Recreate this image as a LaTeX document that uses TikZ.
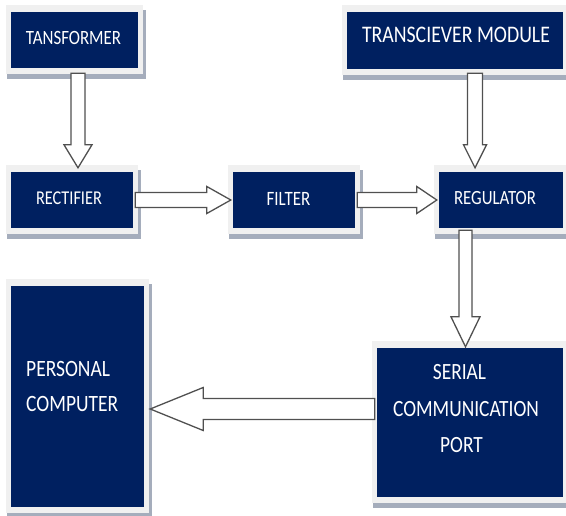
\documentclass[tikz,border=0pt]{standalone}
\usepackage{fontspec}
\setmainfont{Carlito}
\usetikzlibrary{calc,backgrounds}
\definecolor{navy}{RGB}{0,32,96}
\definecolor{framec}{RGB}{240,240,240}
\definecolor{shadowc}{RGB}{165,173,188}
\definecolor{arrowc}{RGB}{80,80,80}
\newcommand\vstretch[1]{\scalebox{1}[1.2]{#1}}
\newcommand\blockarrow[5]{%
  \path ($(#2)!#5!(#1)$) coordinate (hb);
  \draw[barrow] ($(#1)!#3!90:(#2)$) -- ($(hb)!#3!90:(#2)$) -- ($(hb)!#4!90:(#2)$)
    -- (#2) -- ($(hb)!#4!-90:(#2)$) -- ($(hb)!#3!-90:(#2)$) -- ($(#1)!#3!-90:(#2)$) -- cycle;
}
\tikzset{
  box/.style={fill=navy, draw=none, inner sep=0pt},
  lbl/.style={text=white, inner sep=0pt, anchor=base},
  barrow/.style={draw=arrowc, fill=white, line width=1.3pt, line join=miter},
}
\begin{document}
\begin{tikzpicture}[x=1pt,y=-1pt]
\useasboundingbox (0,0) rectangle (566,516);
% boxes
\node[box, minimum width=127pt, minimum height=56pt] (tr) at (74.5,40) {};
\node[box, minimum width=216pt, minimum height=57pt] (tm) at (455,40.5) {};
\node[box, minimum width=122pt, minimum height=56pt] (rect) at (72,200) {};
\node[box, minimum width=122pt, minimum height=56pt] (filt) at (294,200) {};
\node[box, minimum width=124pt, minimum height=56pt] (reg) at (501,200) {};
\node[box, minimum width=133pt, minimum height=221pt] (pc) at (77.5,396.5) {};
\node[box, minimum width=186pt, minimum height=149pt] (ser) at (470,422.5) {};
% frames and shadows
\begin{scope}[on background layer]
\foreach \n in {tr,tm,rect,filt,reg,pc,ser}{
  \fill[shadowc] ([shift={(-3.5pt,-11pt)}]\n.south west) rectangle ([shift={(7.5pt,1.5pt)}]\n.north east);
  \fill[framec] ([shift={(-4.5pt,-6pt)}]\n.south west) rectangle ([shift={(5pt,6.5pt)}]\n.north east);
}
\end{scope}
% texts
\node[lbl, font=\fontsize{16.9}{20}\selectfont] (ttr) at (73.5,45) {\vstretch{TANSFORMER}};
\node[lbl, font=\fontsize{19.8}{24}\selectfont] (ttm) at (456,43) {\vstretch{TRANSCIEVER MODULE}};
\node[lbl, font=\fontsize{16.3}{20}\selectfont] (trect) at (69,205) {\vstretch{RECTIFIER}};
\node[lbl, font=\fontsize{17}{20}\selectfont] (tfilt) at (288.5,205.5) {\vstretch{FILTER}};
\node[lbl, font=\fontsize{16.8}{20}\selectfont] (treg) at (495,205) {\vstretch{REGULATOR}};
\node[lbl, anchor=base west, font=\fontsize{19.5}{24}\selectfont] (tpc1) at (26,377) {\vstretch{PERSONAL}};
\node[lbl, anchor=base west, font=\fontsize{19.5}{24}\selectfont] (tpc2) at (26,412) {\vstretch{COMPUTER}};
\node[lbl, font=\fontsize{19.4}{24}\selectfont] (tser1) at (459.5,380) {\vstretch{SERIAL}};
\node[lbl, font=\fontsize{19.4}{24}\selectfont] (tser2) at (466,417) {\vstretch{COMMUNICATION}};
\node[lbl, font=\fontsize{19.4}{24}\selectfont] (tser3) at (461.5,452) {\vstretch{PORT}};
% arrow end points
\coordinate (a1) at ([xshift=3.5pt,yshift=-5pt]tr.south);
\coordinate (b1) at ([xshift=6pt,yshift=4pt]rect.north);
\coordinate (a2) at ([xshift=20pt,yshift=-4pt]tm.south);
\coordinate (b2) at ([xshift=-26pt,yshift=4pt]reg.north);
\coordinate (a3) at ([xshift=2pt]rect.east);
\coordinate (b3) at ([xshift=-2pt]filt.west);
\coordinate (a4) at ([xshift=2pt]filt.east);
\coordinate (b4) at ([xshift=-2pt]reg.west);
\coordinate (a5) at ([xshift=-35.5pt,yshift=-2pt]reg.south);
\coordinate (b5) at ([xshift=-4.5pt,yshift=1pt]ser.north);
\coordinate (a6) at ([xshift=-2pt,yshift=13.5pt]ser.west);
\coordinate (b6) at ([xshift=6pt,yshift=-12.5pt]pc.east);
% block arrows
\blockarrow{a1}{b1}{7pt}{14pt}{23pt}
\blockarrow{a2}{b2}{7.5pt}{11.5pt}{23pt}
\blockarrow{a3}{b3}{7.5pt}{13.5pt}{24pt}
\blockarrow{a4}{b4}{7.5pt}{13.5pt}{20pt}
\blockarrow{a5}{b5}{6.5pt}{14.5pt}{30pt}
\blockarrow{a6}{b6}{10.5pt}{21.5pt}{53pt}
\end{tikzpicture}
\end{document}
